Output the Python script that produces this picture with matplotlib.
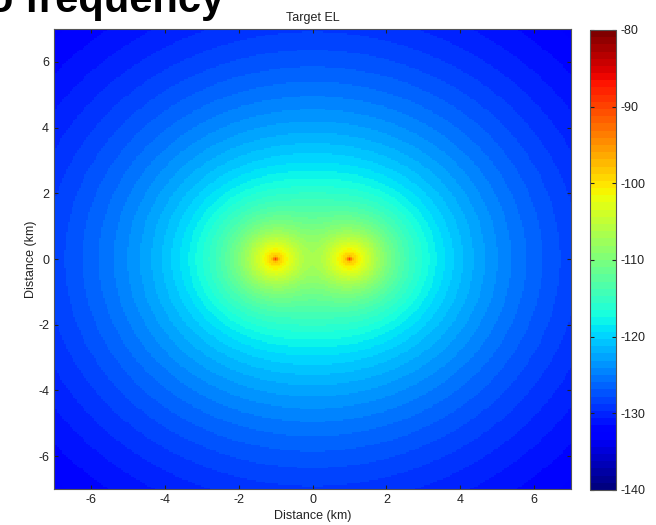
import numpy as np
import matplotlib
matplotlib.use("Agg")
import matplotlib.pyplot as plt

# Target EL map: two sources, level falls off with distance

# source positions (km)
src_x = [-1.0, 1.0]
src_y = [0.0, 0.0]

# level at the midpoint between the sources (dB)
level_at_origin = -107.0

# spreading model for one source
decay_exp = 2.7       # power ~ 1/r^2.7
core_km = 0.45        # softening near each source
spot_radius = 0.05    # km, small hot spot at each source
spot_weight = 69.0

grid_step = 0.05
x_lim = [-7, 7]
y_lim = [-7, 7]

x_ticks = [-6, -4, -2, 0, 2, 4, 6]
y_ticks = [-6, -4, -2, 0, 2, 4, 6]
cbar_ticks = [-140, -130, -120, -110, -100, -90, -80]
c_lim = [-140, -80]

heading = "o frequency"
title = "Target EL"
x_label = "Distance (km)"
y_label = "Distance (km)"

plt.rcParams['font.family'] = ['Liberation Sans', 'DejaVu Sans']
plt.rcParams['axes.unicode_minus'] = False


def power_sum(px, py):
    total = 0.0
    for sx, sy in zip(src_x, src_y):
        r2 = (px - sx) ** 2 + (py - sy) ** 2
        p = (r2 + core_km ** 2) ** (-decay_exp / 2)
        p = p + spot_weight * (1 + r2 / spot_radius ** 2) ** (-1.5)
        total = total + p
    return total


xs = np.arange(x_lim[0], x_lim[1] + grid_step / 2, grid_step)
ys = np.arange(y_lim[0], y_lim[1] + grid_step / 2, grid_step)
X, Y = np.meshgrid(xs, ys)

offset = level_at_origin - 10 * np.log10(power_sum(0.0, 0.0))
EL = 10 * np.log10(power_sum(X, Y)) + offset

fig = plt.figure(figsize=(6.56, 5.25), dpi=100)

ax = fig.add_axes([54 / 656, 36 / 525, 517 / 656, 460 / 525])
cax = fig.add_axes([590 / 656, 35 / 525, 26 / 656, 460 / 525])

cmap = plt.get_cmap('jet', 64)
mesh = ax.pcolormesh(X, Y, EL, cmap=cmap, vmin=c_lim[0], vmax=c_lim[1],
                     shading='nearest', rasterized=True)

ax.set_xlim(x_lim)
ax.set_ylim(y_lim)
ax.set_xticks(x_ticks)
ax.set_yticks(y_ticks)
ax.tick_params(direction='in', labelsize=9, colors='#222222', length=3,
               top=True, right=True)
ax.set_title(title, fontsize=9, color='#222222', pad=6)
ax.set_xlabel(x_label, fontsize=9, color='#222222', labelpad=3)
ax.set_ylabel(y_label, fontsize=9, color='#222222', labelpad=1)
for s in ax.spines.values():
    s.set_color('#555555')
    s.set_linewidth(0.8)

cb = fig.colorbar(mesh, cax=cax, ticks=cbar_ticks)
cb.ax.tick_params(direction='in', labelsize=9, colors='#222222', length=3,
                  left=True)
cb.outline.set_edgecolor('#555555')
cb.outline.set_linewidth(0.8)

# slide heading, cut off at the top of the picture
fig.text(-12 / 656, (525 - 12) / 525, heading, fontsize=30, fontweight='bold',
         ha='left', va='baseline', color='black')

plt.savefig("out.png", dpi=100)
